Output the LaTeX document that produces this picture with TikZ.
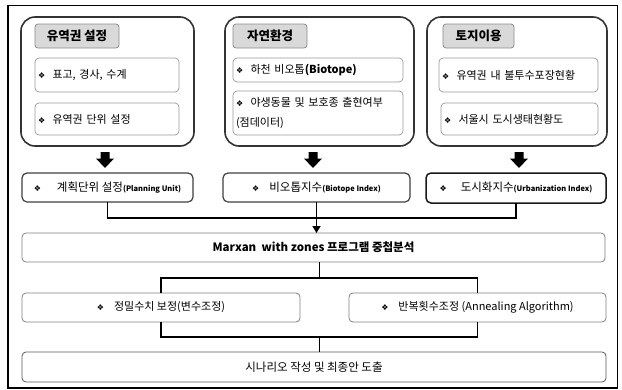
\documentclass[tikz,border=0pt]{standalone}
\usepackage{fontspec}
\setmainfont{Noto Sans CJK KR}
\newfontfamily\dvfont{DejaVu Sans}
\usetikzlibrary{calc,arrows.meta}
\newcommand{\dm}{{\dvfont\fontsize{8}{9}\selectfont ❖}}
\newcommand{\en}[1]{{\bfseries\fontsize{7.5}{9}\selectfont #1}}
\begin{document}
\begin{tikzpicture}[x=1pt,y=-1pt,
  grp/.style={draw=black!80, line width=1.6pt, rounded corners=14pt, inner sep=0pt, outer sep=0pt},
  ttl/.style={draw=black!45, fill=black!15, line width=0.8pt, rounded corners=3pt, inner sep=0pt, outer sep=0pt, font=\bfseries\fontsize{12.5}{14}\selectfont},
  itm/.style={draw=black!40, fill=white, line width=0.7pt, rounded corners=4pt, align=left, inner xsep=3pt, inner ysep=0pt, outer sep=0pt, font=\fontsize{11}{20}\selectfont},
  mid/.style={draw=black!75, fill=white, line width=1.2pt, rounded corners=5pt, inner sep=0pt, outer sep=0pt, font=\fontsize{11.5}{13}\selectfont},
  wide/.style={draw=black!50, fill=white, line width=0.8pt, rounded corners=4pt, inner sep=0pt, outer sep=0pt, font=\fontsize{11.5}{13}\selectfont},
  conn/.style={line width=1.6pt, draw=black},
  blk/.style={fill=black}
]
\useasboundingbox (0,0) rectangle (622,389);
\draw[line width=1.3pt] (8,5.5) rectangle (617.5,388);

% groups
\node[grp, minimum width=173pt, minimum height=129pt] (g1) at (107.5,81.5) {};
\node[grp, minimum width=189pt, minimum height=129pt] (g2) at (319.5,81.5) {};
\node[grp, minimum width=180pt, minimum height=129pt] (g3) at (517,81.5) {};

% titles
\node[ttl, minimum width=84pt, minimum height=24pt] (t1) at (77,36) {유역권 설정};
\node[ttl, minimum width=74pt, minimum height=24pt] (t2) at (270,36) {자연환경};
\node[ttl, minimum width=71pt, minimum height=24pt] (t3) at (478.5,36) {토지이용};

% items
\node[itm, text width=138pt, minimum height=34pt] (i11) at (107,75) {\dm\ \ 표고, 경사, 수계};
\node[itm, text width=138pt, minimum height=32pt] (i12) at (107,119) {\dm\ \ 유역권 단위 설정};
\node[itm, text width=164pt, minimum height=24pt] (i21) at (318,70) {\dm\ \ 하천 비오톱\textbf{(Biotope)}};
\node[itm, text width=164pt, minimum height=44pt] (i22) at (318,113) {\dm\ \ 야생동물 및 보호종 출현여부\\(점데이터)};
\node[itm, text width=153pt, minimum height=34pt] (i31) at (518.5,75) {\dm\ \ 유역권 내 불투수포장현황};
\node[itm, text width=151pt, minimum height=32pt] (i32) at (519.5,119) {\dm\ \ 서울시 도시생태현황도};

% block arrows
\coordinate (ar1) at (105,152);
\coordinate (ar2) at (313,152);
\coordinate (ar3) at (519,152);
\foreach \a in {ar1,ar2,ar3}{
  \fill[blk] (\a) ++(-4.5,0) -- ++(9,0) -- ++(0,6.5) -- ++(4.5,0) -- ++(-9,9.5) -- ++(-9,-9.5) -- ++(4.5,0) -- cycle;
}

% middle row
\node[mid, minimum width=171pt, minimum height=29pt] (m1) at (107.5,187.5) {\dm\hspace{16pt}계획단위 설정\en{(Planning Unit)}};
\node[mid, minimum width=187pt, minimum height=29pt] (m2) at (316.5,187.5) {\dm\hspace{10pt}비오톱지수\en{(Biotope Index)}};
\node[mid, draw=black!90, line width=1.5pt, minimum width=180pt, minimum height=30pt] (m3) at (516,188) {\dm\hspace{14pt}도시화지수\en{(Urbanization Index)}};

% marxan
\node[wide, minimum width=583pt, minimum height=29pt, font=\bfseries\fontsize{11.5}{13}\selectfont] (mx) at (313.5,247.5) {Marxan\ \ with zones 프로그램 중첩분석};

\coordinate (j1) at ($(m2.south)+(0,16)$);
\draw[conn] (m1.south) |- (j1);
\draw[conn] (m3.south) |- (j1);
\draw[conn, -{Triangle[length=7pt,width=8pt]}] (m2.south) -- (m2.south |- mx.north);

% lower row
\node[wide, minimum width=278pt, minimum height=29pt, font=\fontsize{11}{13}\selectfont] (l1) at (161,307.5) {\dm\hspace{10pt}정밀수치 보정(변수조정)};
\node[wide, minimum width=257pt, minimum height=29pt, font=\fontsize{11}{13}\selectfont] (l2) at (477.5,307.5) {\dm\hspace{10pt}반복횟수조정 (Annealing Algorithm)};

\coordinate (j2) at (319.5,278);
\draw[conn] (mx.south -| j2) -- (j2);
\draw[conn] (l1.north) |- (j2) -| (l2.north);

% final
\node[wide, draw=black!65, minimum width=584pt, minimum height=30pt] (fin) at (314,367) {시나리오 작성 및 최종안 도출};
\coordinate (j3) at (319.5,337);
\draw[conn] (l1.south) |- (j3) -| (l2.south);
\draw[conn] (j3) -- (j3 |- fin.north);
\end{tikzpicture}
\end{document}
